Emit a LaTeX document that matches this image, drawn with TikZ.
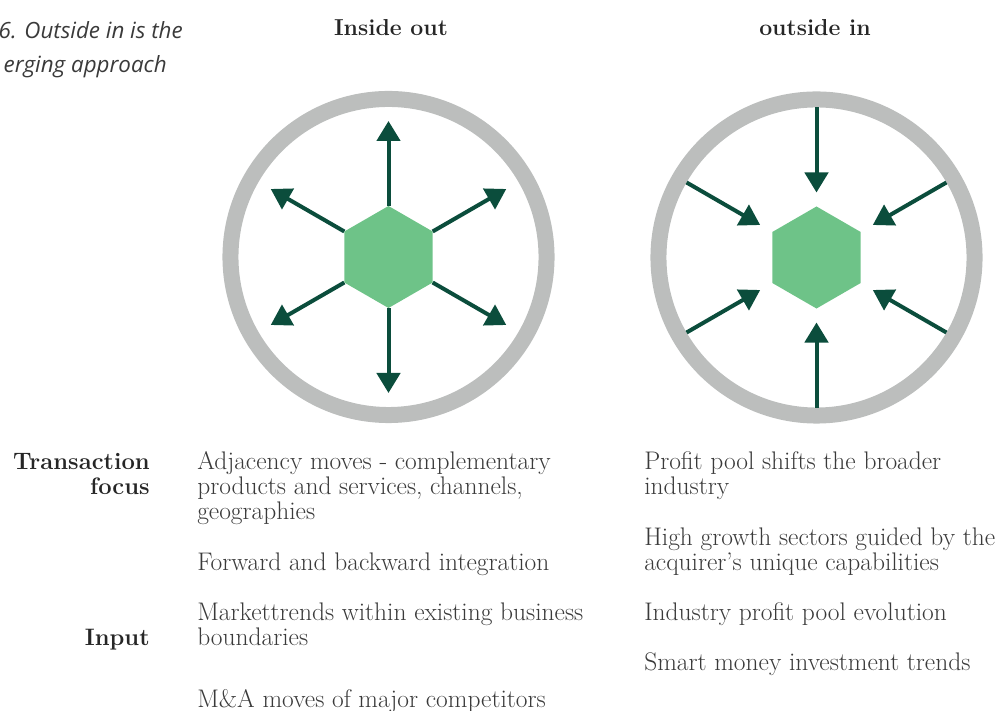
\documentclass[tikz,border=0pt]{standalone}
\usepackage{fontspec}
\newfontfamily\capfont{Open Sans}
\usetikzlibrary{shapes.geometric,arrows.meta,calc}

\definecolor{ringgray}{HTML}{BCBEBD}
\definecolor{hexgreen}{HTML}{6EC388}
\definecolor{arrowgreen}{HTML}{0B4D3C}
\definecolor{textgray}{HTML}{3A3A3A}

\tikzset{
  ringline/.style={circle, draw=ringgray, line width=0.4cm, minimum size=7.9cm, inner sep=0, outer sep=0},
  hexa/.style={regular polygon, regular polygon sides=6, regular polygon rotate=30, fill=hexgreen, draw=none, minimum size=2.55cm, inner sep=0, outer sep=0},
  flow/.style={draw=arrowgreen, line width=0.1cm, -{Triangle[length=0.5cm,width=0.58cm]}},
  headtext/.style={font=\bfseries\fontsize{16.4}{18}\selectfont, text=black!85, inner sep=0, anchor=base},
  rowtext/.style={font=\bfseries\fontsize{16.9}{17.8}\selectfont, text=black!85, inner sep=0, align=right, anchor=base east},
  bodytext/.style={font=\fontsize{18.1}{17.8}\selectfont, text=textgray, inner sep=0, align=left, anchor=base west},
  captext/.style={font=\capfont\itshape\fontsize{15.9}{17}\selectfont, text=textgray, inner sep=0, anchor=base east}
}

\begin{document}
\begin{tikzpicture}[x=0.025cm, y=0.025cm]
   \useasboundingbox (0,0) rectangle (1002,711);

   % caption, cut by the left edge
   \node[captext] (cap1) at (183,672) {6. Outside in is the};
   \node[captext] (cap2) at (167,638) {erging approach};

   % titles
   \node[headtext] (titleL) at (391,675) {Inside out};
   \node[headtext] (titleR) at (815,675) {outside in};

   % inside out
   \node[ringline] (ringL) at (388.5,454) {};
   \node[hexa] (hexL) at (388.5,454) {};
   \foreach \a in {90,30,-30,-90,-150,150}{
      \coordinate (tipL\a) at ($(hexL.center)+(\a:136)$);
      \draw[flow] (hexL.\a) -- (tipL\a);
   }

   % outside in
   \node[ringline] (ringR) at (816.5,453.5) {};
   \node[hexa] (hexR) at (816.5,453.5) {};
   \foreach \a in {90,30,-30,-90,-150,150}
      \draw[flow, shorten <=0.2cm, shorten >=0.35cm] (ringR.\a) -- (hexR.\a);

   % row labels (base = last line)
   \node[rowtext] (transfocus) at (150,216) {Transaction\\focus};
   \node[rowtext] (input) at (150,65) {Input};

   % left column
   \node[bodytext] (adjacency) at (197,191) {Adjacency moves - complementary\\products and services, channels,\\geographies};
   \node[bodytext] (forward) at (197,140) {Forward and backward integration};
   \node[bodytext] (markettrends) at (197,65) {Markettrends within existing business\\boundaries};
   \node[bodytext] (mamoves) at (197,3) {M\&A moves of major competitors};

   % right column
   \node[bodytext] (profitshift) at (644,216) {Profit pool shifts the broader\\industry};
   \node[bodytext] (highgrowth) at (644,140) {High growth sectors guided by the\\acquirer’s unique capabilities};
   \node[bodytext] (evolution) at (644,90) {Industry profit pool evolution};
   \node[bodytext] (smartmoney) at (644,40) {Smart money investment trends};
\end{tikzpicture}
\end{document}
